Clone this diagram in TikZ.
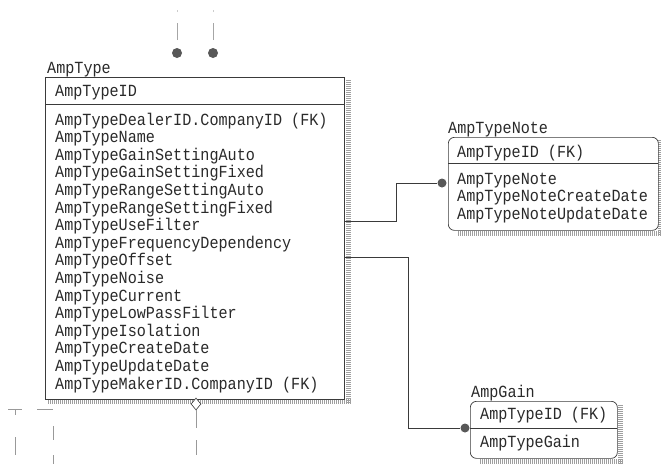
\documentclass[tikz,border=0pt]{standalone}
\usepackage{fontspec}
\newfontfamily\erfont{Liberation Mono}[FakeStretch=0.89]
\usetikzlibrary{shapes.geometric}
\definecolor{ink}{HTML}{2A2A2A}
\definecolor{lin}{HTML}{3A3A3A}
\tikzset{
  field/.style={anchor=base west, inner sep=0pt, text=ink, font=\erfont\fontsize{17}{20}\selectfont},
  entbox/.style={draw=lin, line width=0.7pt, anchor=north west, inner sep=0pt, fill=white},
  conn/.style={draw=lin, line width=0.7pt},
  shade/.style={draw=gray!75, line width=5pt, dash pattern=on 1pt off 1pt},
  erdot/.style={circle, fill=lin!85, inner sep=0pt, minimum size=9pt},
  erdia/.style={diamond, draw=lin, fill=white, line width=0.6pt, inner sep=0pt, minimum width=10pt, minimum height=12pt}
}
\begin{document}
\begin{tikzpicture}[x=1pt,y=-1pt]
\useasboundingbox (0,0) rectangle (661,464);
% shadows
\coordinate (sa1) at (348,80); \coordinate (sa2) at (348,403);
\coordinate (sa3) at (48,401); \coordinate (sa4) at (351,401);
\draw[shade] (sa1) -- (sa2); \draw[shade] (sa3) -- (sa4);
\coordinate (sn1) at (660,140); \coordinate (sn2) at (660,236);
\coordinate (sn3) at (458,233.5); \coordinate (sn4) at (661,233.5);
\draw[shade] (sn1) -- (sn2); \draw[shade] (sn3) -- (sn4);
\coordinate (sg1) at (620.5,405); \coordinate (sg2) at (620.5,464);
\coordinate (sg3) at (480,461); \coordinate (sg4) at (623,461);
\draw[shade] (sg1) -- (sg2); \draw[shade] (sg3) -- (sg4);
% boxes
\node[entbox, minimum width=299pt, minimum height=322pt] (amptype) at (45,77) {};
\node[entbox, rounded corners=6pt, minimum width=210pt, minimum height=93pt] (note) at (448,137) {};
\node[entbox, rounded corners=6pt, minimum width=147pt, minimum height=57pt] (gain) at (470,401) {};
% separators
\coordinate (s1a) at (45,104); \coordinate (s1b) at (344,104);
\draw[conn] (s1a) -- (s1b);
\coordinate (s2a) at (448,163); \coordinate (s2b) at (658,163);
\draw[conn] (s2a) -- (s2b);
\coordinate (s3a) at (470,428); \coordinate (s3b) at (617,428);
\draw[conn] (s3a) -- (s3b);
% titles
\node[field] (tAmp) at (47,73) {AmpType};
\node[field] (tNote) at (448,133.5) {AmpTypeNote};
\node[field] (tGain) at (471,397) {AmpGain};
% AmpType fields
\node[field] (kAmp) at (55,96) {AmpTypeID};
\foreach \t [count=\i] in {AmpTypeDealerID.CompanyID (FK), AmpTypeName, AmpTypeGainSettingAuto, AmpTypeGainSettingFixed, AmpTypeRangeSettingAuto, AmpTypeRangeSettingFixed, AmpTypeUseFilter, AmpTypeFrequencyDependency, AmpTypeOffset, AmpTypeNoise, AmpTypeCurrent, AmpTypeLowPassFilter, AmpTypeIsolation, AmpTypeCreateDate, AmpTypeUpdateDate, AmpTypeMakerID.CompanyID (FK)}
  \node[field] (fa\i) at (55,{125+(\i-1)*17.6}) {\t};
% AmpTypeNote fields
\node[field] (kNote) at (457,157) {AmpTypeID (FK)};
\node[field] (fn1) at (457,184) {AmpTypeNote};
\node[field] (fn2) at (457,201.5) {AmpTypeNoteCreateDate};
\node[field] (fn3) at (457,219) {AmpTypeNoteUpdateDate};
% AmpGain fields
\node[field] (kGain) at (480,419.5) {AmpTypeID (FK)};
\node[field] (fg1) at (480,447) {AmpTypeGain};
% connectors to the right
\node[erdot] (d1) at (442,183) {};
\node[erdot] (d2) at (465,428) {};
\coordinate (e1) at (344,221);
\coordinate (e2) at (344,257);
\draw[conn] (e1) -- ++(52,0) |- (d1);
\draw[conn] (e2) -- ++(64,0) |- (d2);
% top connectors
\node[erdot, minimum size=10pt] (td1) at (177,53) {};
\node[erdot, minimum size=10pt] (td2) at (213,53) {};
\coordinate (ta1) at (177,40); \coordinate (tb1) at (177,23);
\coordinate (tc1) at (177,12); \coordinate (te1) at (177,10);
\coordinate (ta2) at (213,40); \coordinate (tb2) at (213,23);
\coordinate (tc2) at (213,12); \coordinate (te2) at (213,10);
\draw[conn, gray!70] (ta1) -- (tb1); \draw[conn, gray!40] (tc1) -- (te1);
\draw[conn, gray!70] (ta2) -- (tb2); \draw[conn, gray!40] (tc2) -- (te2);
% bottom centre
\node[erdia] (dia) at (196,404) {};
\coordinate (bc1) at (196,428); \coordinate (bc2) at (196,440); \coordinate (bc3) at (196,455);
\draw[conn, gray!80] (dia.south) -- (bc1);
\draw[conn, gray!80] (bc2) -- (bc3);
% bottom left
\coordinate (l1) at (8,409); \coordinate (l2) at (22,409);
\coordinate (l3) at (15,409); \coordinate (l4) at (15,415);
\coordinate (l5) at (15,437); \coordinate (l6) at (15,455);
\draw[conn, gray!80] (l1) -- (l2);
\draw[conn, gray!80] (l3) -- (l4);
\draw[conn, gray!80] (l5) -- (l6);
\coordinate (r1) at (37,409); \coordinate (r2) at (53,409);
\coordinate (r3) at (53,426); \coordinate (r4) at (53,440);
\coordinate (r5) at (53,455); \coordinate (r6) at (53,464);
\draw[conn, gray!80] (r1) -- (r2);
\draw[conn, gray!80] (r3) -- (r4);
\draw[conn, gray!80] (r5) -- (r6);
\end{tikzpicture}
\end{document}
